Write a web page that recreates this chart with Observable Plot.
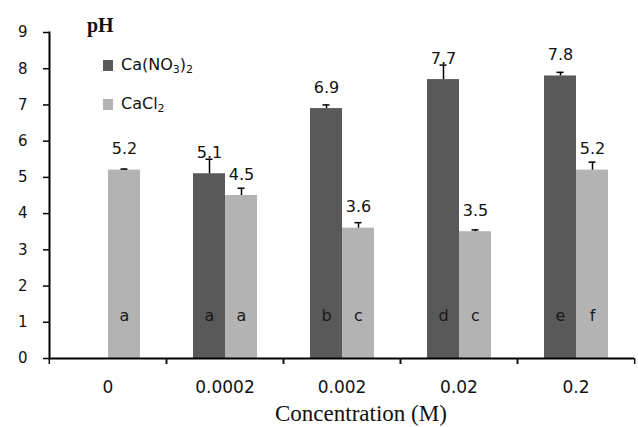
<!DOCTYPE html>
<html>
<head>
<meta charset="utf-8">
<script src="https://cdn.jsdelivr.net/npm/d3@7"></script>
<script src="https://cdn.jsdelivr.net/npm/@observablehq/plot@0.6"></script>
<style>
  html, body { margin: 0; padding: 0; background: #fff; }
  #wrap { position: relative; width: 638px; height: 427px; overflow: hidden; }
  #ph { position: absolute; left: 87px; top: 15px; font: bold 20px "Liberation Serif", serif; line-height: 1; color: #111; }
  .leg { position: absolute; left: 103px; display: flex; align-items: center; font: 16px "DejaVu Sans", sans-serif; color: #111; line-height: 1; }
  .leg .sw { width: 10px; height: 11px; margin-right: 8px; }
  .leg sub { font-size: 11px; vertical-align: -3px; line-height: 0; }
  #cap { position: absolute; left: 275px; top: 402px; font: 23px "Liberation Serif", serif; line-height: 1; color: #111; }
</style>
</head>
<body>
<div id="wrap">
  <div id="chart"></div>
  <div id="ph">pH</div>
  <div class="leg" style="top:57px"><div class="sw" style="background:#595959"></div><span>Ca(NO<sub>3</sub>)<sub>2</sub></span></div>
  <div class="leg" style="top:96px"><div class="sw" style="background:#b3b3b3"></div><span>CaCl<sub>2</sub></span></div>
  <div id="cap">Concentration (M)</div>
</div>
<script>
const concentrations = ["0", "0.0002", "0.002", "0.02", "0.2"];
const seriesNames = ["Ca(NO3)2", "CaCl2"];
const seriesColors = ["#595959", "#b3b3b3"];
const caNO3 = [null, 5.1, 6.9, 7.7, 7.8];
const caNO3Err = [null, 0.4, 0.1, 0.4, 0.1];
const caNO3Letters = [null, "a", "b", "d", "e"];
const caCl2 = [5.2, 4.5, 3.6, 3.5, 5.2];
const caCl2Err = [0.03, 0.2, 0.15, 0.05, 0.22];
const caCl2Letters = ["a", "a", "c", "c", "f"];
const yTicks = [0, 1, 2, 3, 4, 5, 6, 7, 8, 9];
const letterLevel = 1;

const rows = [];
concentrations.forEach((c, i) => {
  if (caNO3[i] != null) rows.push({conc: c, series: seriesNames[0], value: caNO3[i], err: caNO3Err[i], letter: caNO3Letters[i]});
  if (caCl2[i] != null) rows.push({conc: c, series: seriesNames[1], value: caCl2[i], err: caCl2Err[i], letter: caCl2Letters[i]});
});

const W = 638, ML = 48, MR = 3;
const facetStep = (W - ML - MR) / concentrations.length;

const chart = Plot.plot({
  width: W,
  height: 400,
  marginLeft: ML,
  marginRight: MR,
  marginTop: 32,
  marginBottom: 42,
  style: {fontFamily: "DejaVu Sans, sans-serif", color: "#111", background: "transparent"},
  fx: {domain: concentrations, padding: 0, label: null, axis: null},
  x: {domain: seriesNames, paddingInner: 0, paddingOuter: 0.78, axis: null},
  y: {domain: [0, 9], axis: null},
  color: {domain: seriesNames, range: seriesColors},
  marks: [
    Plot.barY(rows, {fx: "conc", x: "series", y: "value", fill: "series"}),
    Plot.ruleX(rows, {fx: "conc", x: "series", y1: "value", y2: d => d.value + d.err, stroke: "#000", strokeWidth: 1.5}),
    Plot.tickY(rows, {fx: "conc", x: "series", y: d => d.value + d.err, stroke: "#000", strokeWidth: 1.5, insetLeft: 12.5, insetRight: 12.5}),
    Plot.text(rows, {fx: "conc", x: "series", y: "value", text: d => d.value.toFixed(1), dy: -21, fontSize: 16, fill: "#111"}),
    Plot.text(rows, {fx: "conc", x: "series", y: () => letterLevel, text: "letter", dy: -6, fontSize: 16, fill: "#1a1a1a"}),
    Plot.ruleY([0], {stroke: "#000", strokeWidth: 2}),
    Plot.frame({anchor: "left", facetAnchor: "left", stroke: "#000", strokeWidth: 2}),
    Plot.axisY({ticks: yTicks, tickSize: 6, tickPadding: 16, fontSize: 15, stroke: "#000", strokeWidth: 1.5, tickFormat: d => d, label: null}),
    Plot.axisFx({anchor: "bottom", tickSize: 0, tickPadding: 22, fontSize: 17, label: null}),
    Plot.axisFx({anchor: "bottom", tickSize: 6, tickFormat: () => "", label: null, dx: -facetStep / 2, strokeWidth: 1.5}),
    Plot.axisFx({anchor: "bottom", tickSize: 6, tickFormat: () => "", label: null, dx: facetStep / 2, strokeWidth: 1.5})
  ]
});
document.getElementById("chart").appendChild(chart);
</script>
</body>
</html>
